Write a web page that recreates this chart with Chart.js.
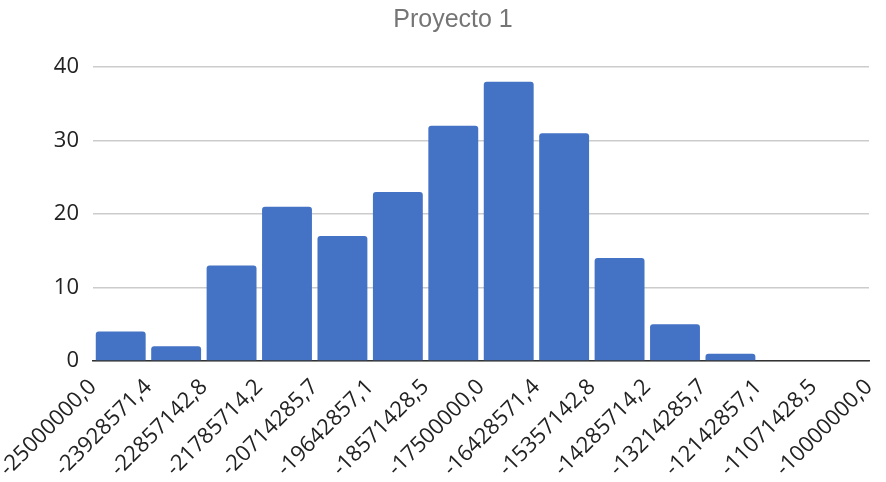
<!DOCTYPE html>
<html>
<head>
<meta charset="utf-8">
<script src="https://cdn.jsdelivr.net/npm/chart.js@4/dist/chart.umd.min.js"></script>
<style>
  html, body { margin: 0; padding: 0; background: #fff; }
  #wrap { width: 886px; height: 482px; position: relative; }
</style>
</head>
<body>
<div id="wrap"><canvas id="c" width="886" height="482"></canvas></div>
<script>
const chartTitle = "Proyecto 1";
const binEdges = ["-25000000,0", "-23928571,4", "-22857142,8", "-21785714,2", "-20714285,7",
  "-19642857,1", "-18571428,5", "-17500000,0", "-16428571,4", "-15357142,8",
  "-14285714,2", "-13214285,7", "-12142857,1", "-11071428,5", "-10000000,0"];
const counts = [4, 2, 13, 21, 17, 23, 32, 38, 31, 14, 5, 1, 0, 0];
const yTicks = [0, 10, 20, 30, 40];

const points = counts.map((v, i) => ({ x: i + 0.5, y: v }));

new Chart(document.getElementById('c'), {
  type: 'bar',
  data: {
    datasets: [{
      data: points,
      backgroundColor: '#4472C4',
      borderRadius: { topLeft: 3, topRight: 3, bottomLeft: 0, bottomRight: 0 },
      borderSkipped: 'start',
      categoryPercentage: 1,
      barPercentage: 0.9
    }]
  },
  options: {
    responsive: false,
    animation: false,
    events: [],
    layout: { padding: { left: 20, right: 0, top: 0, bottom: 0 } },
    plugins: {
      legend: { display: false },
      tooltip: { enabled: false },
      title: {
        display: true,
        text: chartTitle,
        color: '#757575',
        font: { family: 'Liberation Sans', size: 25, weight: 'normal' },
        padding: { top: 5, bottom: 32 }
      }
    },
    scales: {
      x: {
        type: 'linear',
        min: 0,
        max: binEdges.length - 1,
        offset: false,
        grid: { display: false, drawTicks: false },
        border: { display: true, color: '#333333', width: 1.5 },
        ticks: {
          stepSize: 1,
          autoSkip: false,
          maxRotation: 45,
          minRotation: 45,
          padding: 13,
          color: '#222222',
          font: { family: 'Open Sans', size: 22 },
          callback: (v) => binEdges[Math.round(v)]
        },
        afterFit: (s) => { s.paddingLeft = 0; s.paddingRight = 17; s.height = 121; }
      },
      y: {
        min: 0,
        max: 40,
        afterBuildTicks: (s) => { s.ticks = yTicks.map(v => ({ value: v })); },
        grid: { color: '#cccccc', lineWidth: 1.5, drawTicks: false },
        border: { display: false },
        ticks: {
          padding: 14,
          color: '#222222',
          font: { family: 'Open Sans', size: 22 }
        },
        afterFit: (s) => { s.width = 73; }
      }
    }
  }
});
</script>
</body>
</html>
